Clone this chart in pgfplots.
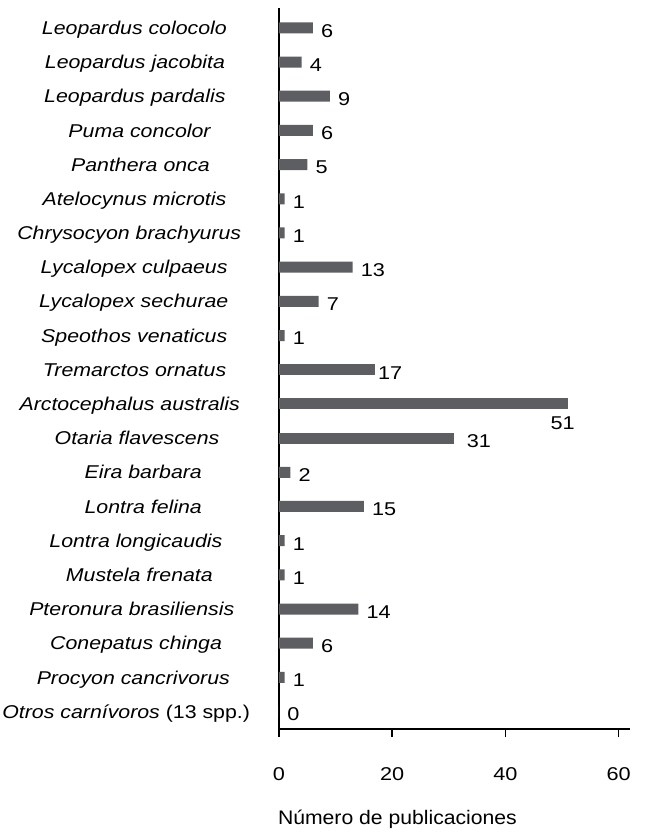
\documentclass[border=0pt]{standalone}
\usepackage{pgfplots}
\pgfplotsset{compat=1.18}
\usepackage{fontspec}
\setmainfont{Liberation Sans}[FakeStretch=1.15]
\newfontfamily\numfont{Liberation Sans}[FakeStretch=1.17]
\newfontfamily\labfont{Liberation Sans}[FakeStretch=1.08]
\definecolor{barc}{HTML}{5D5E62}
\newcommand\fs{\fontsize{13.9}{16}\selectfont}
\newcommand\lab[1]{\setbox0=\hbox{#1}\usebox0\kern0.262\wd0}
\begin{document}
\begin{tikzpicture}
\begin{axis}[name=ax, scale only axis, width=263.25pt, height=540.75pt,
 xmin=0, xmax=62, ymin=-0.51, ymax=20.58,
 axis x line*=bottom, axis y line*=left,
 axis line style={-, black},
 x axis line style={line width=0.8pt},
 y axis line style={line width=1.4pt},
 /pgf/number format/assume math mode=true,
 xtick={0,20,40,60}, tick align=outside, major tick length=6pt,
 xtick style={line width=1.2pt, black},
 xticklabel style={font=\numfont\fs, anchor=base, yshift=-32.25pt},
 ytick={0,...,20}, ytick style={draw=none},
 yticklabels={\lab{\textit{Otros carnívoros} (13 spp.)},
  \lab{\textit{Procyon cancrivorus}}, \lab{\textit{Conepatus chinga}}, \lab{\textit{Pteronura brasiliensis}},
  \lab{\textit{Mustela frenata}}, \lab{\textit{Lontra longicaudis}}, \lab{\textit{Lontra felina}},
  \lab{\textit{Eira barbara}}, \lab{\textit{Otaria flavescens}}, \lab{\textit{Arctocephalus australis}},
  \lab{\textit{Tremarctos ornatus}}, \lab{\textit{Speothos venaticus}}, \lab{\textit{Lycalopex sechurae}},
  \lab{\textit{Lycalopex culpaeus}}, \lab{\textit{Chrysocyon brachyurus}}, \lab{\textit{Atelocynus microtis}},
  \lab{\textit{Panthera onca}}, \lab{\textit{Puma concolor}}, \lab{\textit{Leopardus pardalis}},
  \lab{\textit{Leopardus jacobita}}, \lab{\textit{Leopardus colocolo}}},
 yticklabel style={font=\fs, anchor=base, inner sep=0pt, xshift=-84.3pt, yshift=-5pt},
 xlabel={Número de publicaciones},
 xlabel style={font=\labfont\fontsize{14.7}{17}\selectfont, at={(rel axis cs:0.3375,0)}, anchor=base, yshift=-71.25pt},
 bar shift=0pt, clip=false,
 every node near coord/.append style={font=\numfont\fs, anchor=west, inner sep=0pt, xshift=6pt, yshift=-2.25pt},
]
\addplot[xbar, fill=barc, draw=none, bar width=8.25pt, nodes near coords, point meta=x]
 coordinates {(0,0) (1,1) (6,2) (14,3) (1,4) (1,5) (15,6) (2,7) (1,11) (7,12) (13,13) (1,14) (1,15) (5,16) (6,17) (9,18) (4,19) (6,20)};
\addplot[xbar, fill=barc, draw=none, bar width=8.25pt, nodes near coords, point meta=x,
 every node near coord/.append style={xshift=3pt}]
 coordinates {(31,8)};
\addplot[xbar, fill=barc, draw=none, bar width=8.25pt, nodes near coords, point meta=x,
 every node near coord/.append style={xshift=-4pt}]
 coordinates {(17,10)};
\addplot[xbar, fill=barc, draw=none, bar width=8.25pt, nodes near coords, point meta=x,
 every node near coord/.append style={anchor=north, xshift=-9.75pt, yshift=-7.5pt}]
 coordinates {(51,9)};
\end{axis}
\pgfresetboundingbox
\path ([xshift=-209.25pt, yshift=-77.25pt]ax.south west) rectangle ([xshift=14.25pt, yshift=6pt]ax.north east);
\end{tikzpicture}
\end{document}
